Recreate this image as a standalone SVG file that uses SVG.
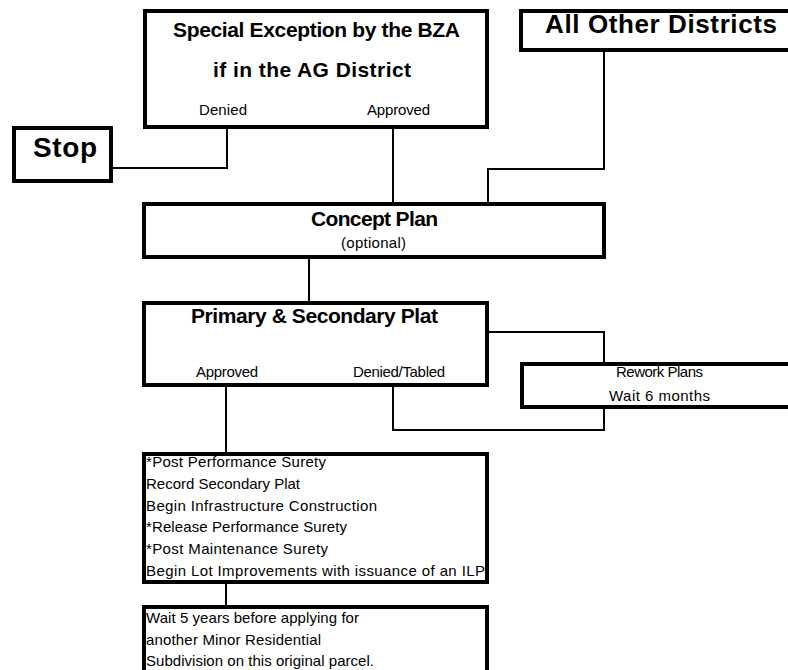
<svg xmlns="http://www.w3.org/2000/svg" width="788" height="670" viewBox="0 0 788 670">
<style>
.box{fill:#fff;stroke:#000;stroke-width:4}
.con{fill:none;stroke:#000;stroke-width:2}
text{font-family:"Liberation Sans",Arial,sans-serif;fill:#000}
.b{font-weight:bold;font-size:21px}
.s{font-size:15px}
</style>
<rect width="788" height="670" fill="#fff"/>
<g id="connectors">
<path class="con" d="M227 129V168H112"/>
<path class="con" d="M393 129V203"/>
<path class="con" d="M604 52V169H488V203"/>
<path class="con" d="M309 259V302"/>
<path class="con" d="M489 332H604V363"/>
<path class="con" d="M393 387V430H604V409"/>
<path class="con" d="M226 387V453"/>
<path class="con" d="M226 584V606"/>
</g>
<g id="bza">
<rect class="box" x="145" y="11" width="342" height="116"/>
<text class="b" x="173" y="37" textLength="287">Special Exception by the BZA</text>
<text class="b" x="213" y="77" textLength="198">if in the AG District</text>
<text class="s" x="199" y="115" textLength="48">Denied</text>
<text class="s" x="367" y="115" textLength="63">Approved</text>
</g>
<g id="stop">
<rect class="box" x="14" y="128" width="97" height="53"/>
<text x="33" y="157" font-weight="bold" font-size="28" textLength="64">Stop</text>
</g>
<g id="other">
<rect class="box" x="521" y="11" width="290" height="39"/>
<text x="545" y="33" font-weight="bold" font-size="26" textLength="232">All Other Districts</text>
</g>
<g id="concept">
<rect class="box" x="144" y="204" width="460" height="53"/>
<text class="b" x="311" y="226" textLength="127">Concept Plan</text>
<text class="s" x="341" y="248" textLength="65">(optional)</text>
</g>
<g id="plat">
<rect class="box" x="144" y="303" width="343" height="82"/>
<text class="b" x="191" y="323" textLength="247">Primary &amp; Secondary Plat</text>
<text class="s" x="196" y="377" textLength="62">Approved</text>
<text class="s" x="353" y="377" textLength="92">Denied/Tabled</text>
</g>
<g id="rework">
<rect class="box" x="522" y="364" width="290" height="43"/>
<text class="s" x="616" y="377" textLength="87">Rework Plans</text>
<text class="s" x="609" y="401" textLength="101">Wait 6 months</text>
</g>
<g id="steps">
<rect class="box" x="144" y="454" width="343" height="128"/>
<text class="s" x="146" y="467" textLength="180">*Post Performance Surety</text>
<text class="s" x="146" y="489" textLength="154">Record Secondary Plat</text>
<text class="s" x="146" y="511" textLength="231">Begin Infrastructure Construction</text>
<text class="s" x="146" y="532" textLength="201">*Release Performance Surety</text>
<text class="s" x="146" y="554" textLength="182">*Post Maintenance Surety</text>
<text class="s" x="146" y="576" textLength="339">Begin Lot Improvements with issuance of an ILP</text>
</g>
<g id="wait">
<rect class="box" x="144" y="607" width="343" height="80"/>
<text class="s" x="146" y="623" textLength="213">Wait 5 years before applying for</text>
<text class="s" x="146" y="645" textLength="175">another Minor Residential</text>
<text class="s" x="146" y="666" textLength="228">Subdivision on this original parcel.</text>
</g>
</svg>
